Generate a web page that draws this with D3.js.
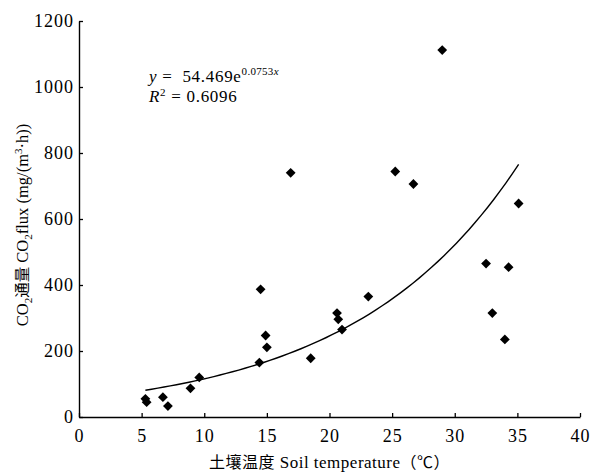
<!DOCTYPE html>
<html>
<head>
<meta charset="utf-8">
<script src="https://cdn.jsdelivr.net/npm/d3@7"></script>
<style>
  body { margin: 0; background: #fff; }
</style>
</head>
<body>
<script>
// soil temperature vs CO2 flux
var temps = [5.3, 5.4, 6.7, 7.1, 8.9, 9.6, 14.4, 14.5, 14.9, 15.0, 16.9, 18.5,
             20.6, 20.7, 21.0, 23.1, 25.25, 26.7, 29.0, 32.5, 33.0, 34.0, 34.3, 35.1];
var fluxes = [55, 45, 60, 33, 87, 120, 165, 387, 247, 211, 740, 178,
              315, 296, 265, 365, 744, 706, 1112, 465, 315, 235, 454, 647];
var xTicks = [0, 5, 10, 15, 20, 25, 30, 35, 40];
var yTicks = [0, 200, 400, 600, 800, 1000, 1200];
// fitted curve coefficients as printed on the chart
var fitA = 54.469;
var fitB = 0.0753;

var serif = "'Liberation Serif'";
var cjk = "'Noto Sans CJK SC'";

var width = 595, height = 474;
var svg = d3.select("body").append("svg").attr("width", width).attr("height", height);

var x = d3.scaleLinear().domain([0, 40]).range([79, 580]);
var y = d3.scaleLinear().domain([0, 1200]).range([417, 21]);

var xAxis = svg.append("g")
    .attr("transform", "translate(0," + y(0) + ")")
    .call(d3.axisBottom(x).tickValues(xTicks).tickFormat(d3.format("d"))
        .tickSizeInner(-4).tickSizeOuter(0).tickPadding(12));
var yAxis = svg.append("g")
    .attr("transform", "translate(" + x(0) + ",0)")
    .call(d3.axisLeft(y).tickValues(yTicks).tickFormat(d3.format("d"))
        .tickSizeInner(-4).tickSizeOuter(0).tickPadding(6));

[xAxis, yAxis].forEach(function(g) {
    g.attr("font-family", null).attr("font-size", null);
    g.select(".domain").attr("stroke", "#000").attr("stroke-width", 1.4);
    g.selectAll(".tick line").attr("stroke", "#000").attr("stroke-width", 1.3);
    g.selectAll(".tick text")
        .style("font-family", serif)
        .style("font-size", "18px")
        .style("letter-spacing", "1px")
        .attr("fill", "#000");
});
yAxis.selectAll(".tick text").attr("dx", "1px");

// trend line over the observed range
var xmin = d3.min(temps), xmax = d3.max(temps);
var curveX = d3.range(0, 61).map(function(i) { return xmin + (xmax - xmin) * i / 60; });
var line = d3.line()
    .x(function(t) { return x(t); })
    .y(function(t) { return y(fitA * Math.exp(fitB * t)); });
svg.append("path")
    .datum(curveX)
    .attr("d", line)
    .attr("fill", "none")
    .attr("stroke", "#000")
    .attr("stroke-width", 1.4);

// diamond markers
var diamond = d3.symbol().type(d3.symbolSquare).size(48);
svg.selectAll(".pt")
    .data(temps)
    .enter().append("path")
    .attr("class", "pt")
    .attr("d", diamond)
    .attr("transform", function(t, i) {
        return "translate(" + x(t) + "," + y(fluxes[i]) + ") rotate(45)";
    })
    .attr("fill", "#000");

// equation
var eq = svg.append("text").attr("x", 149).attr("y", 82)
    .style("font-family", serif).style("font-size", "17px").style("letter-spacing", "0.7px");
eq.append("tspan").style("font-style", "italic").text("y");
eq.append("tspan").text(" =\u00a0 " + fitA + "e");
eq.append("tspan").attr("dy", -7).style("font-size", "11px").style("letter-spacing", "0.3px").text(fitB);
eq.append("tspan").style("font-size", "11px").style("font-style", "italic").text("x");

var r2 = svg.append("text").attr("x", 149).attr("y", 102)
    .style("font-family", serif).style("font-size", "17px").style("letter-spacing", "0.7px");
r2.append("tspan").style("font-style", "italic").text("R");
r2.append("tspan").attr("dy", -6).style("font-size", "11px").text("2");
r2.append("tspan").attr("dy", 6).text(" = 0.6096");

// axis titles
var xt = svg.append("text")
    .attr("x", (x(0) + x(40)) / 2)
    .attr("y", 468)
    .attr("text-anchor", "middle")
    .style("font-family", serif)
    .style("font-size", "17px")
    .style("letter-spacing", "0.5px");
xt.append("tspan").style("font-family", cjk).style("font-size", "16px").text("土壤温度");
xt.append("tspan").text(" Soil temperature");
xt.append("tspan").style("font-family", cjk).style("font-size", "16px").text("（℃）");

var yt = svg.append("text")
    .attr("transform", "translate(28,225) rotate(-90)")
    .attr("text-anchor", "middle")
    .style("font-family", serif)
    .style("font-size", "16.5px");
yt.append("tspan").text("CO");
yt.append("tspan").attr("dy", 4).style("font-size", "11px").text("2");
yt.append("tspan").attr("dy", -4).style("font-family", cjk).style("font-size", "15.5px").text("通量");
yt.append("tspan").text(" CO");
yt.append("tspan").attr("dy", 4).style("font-size", "11px").text("2");
yt.append("tspan").attr("dy", -4).text("flux (mg/(m");
yt.append("tspan").attr("dy", -6).style("font-size", "11px").text("3");
yt.append("tspan").attr("dy", 6).text("·h))");
</script>
</body>
</html>
